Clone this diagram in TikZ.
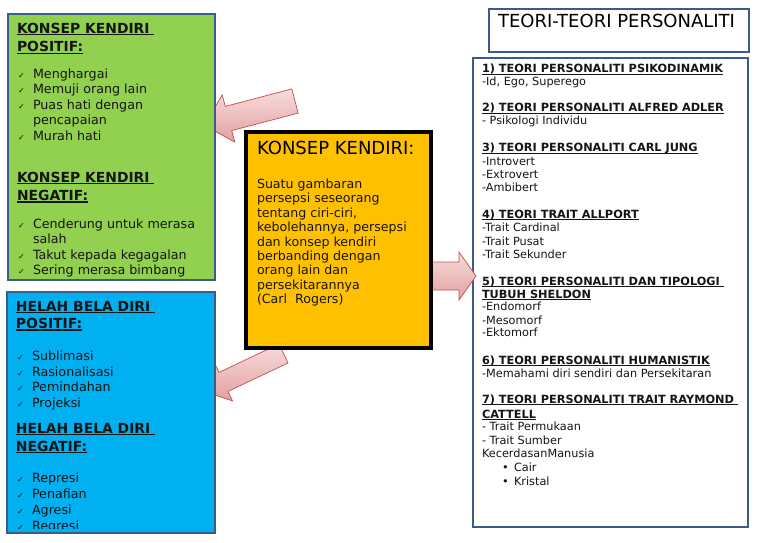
\documentclass[tikz,border=0pt]{standalone}
\usepackage{fontspec}
\setmainfont{DejaVu Sans}
\usetikzlibrary{calc}
\definecolor{gfill}{HTML}{92D050}
\definecolor{bfill}{HTML}{00B0F0}
\definecolor{ofill}{HTML}{FFC000}
\definecolor{edge}{HTML}{385D8A}
\definecolor{arrowedge}{HTML}{C0504D}
\definecolor{arrowlight}{HTML}{F8DCDC}
\definecolor{arrowdark}{HTML}{E2A0A0}
\definecolor{txt}{HTML}{151515}
\newcommand\myul[2][0.9pt]{\setbox0\hbox{#2}\rlap{\rule[-2pt]{\wd0}{#1}}\box0}
\begin{document}
\begin{tikzpicture}[x=1pt,y=-1pt,
  box/.style={draw=edge, line width=1.5pt, anchor=north west, inner sep=0pt, outer sep=0pt},
  ln/.style={anchor=base west, inner sep=0pt, outer sep=0pt, text=txt},
  lhead/.style={ln, font=\fontsize{13.9}{15}\bfseries\selectfont},
  lbody/.style={ln, font=\fontsize{12.7}{15}\selectfont},
  lcheck/.style={ln, font=\fontsize{8}{9}\selectfont},
  obody/.style={ln, font=\fontsize{12.6}{14}\selectfont},
  rhead/.style={ln, font=\fontsize{11.3}{13}\bfseries\selectfont},
  rbody/.style={ln, font=\fontsize{11.3}{13}\selectfont},
  blockarrow/.style={top color=arrowlight, bottom color=arrowdark, draw=arrowedge, line width=0.7pt, line join=miter}]
\useasboundingbox (0,0) rectangle (768,543);
\fill[white] (0,0) rectangle (768,543);

% arrows toward the left boxes (drawn first, tips hidden by the boxes)
\coordinate (a1tail) at (295,101);
\coordinate (a2tail) at (283.5,353.5);
\draw[blockarrow] (291.8,88.9) -- (225.3,106.4) -- (222.2,94.9) -- (204.4,125.3)
  -- (234.8,142.1) -- (231.7,130.6) -- (298.2,113.1) -- cycle;
\draw[blockarrow] (279,344) -- (219,372.4) -- (214.5,362.9) -- (203.6,391.3)
  -- (232.5,400.9) -- (228,391.4) -- (288,363) -- cycle;

% green box
\node[box, fill=gfill, minimum width=207pt, minimum height=266pt] (green) at (8,14) {};
\begin{scope}
\clip (9,15) rectangle (214,277);
\foreach \y/\t [count=\i] in {33.5/{KONSEP KENDIRI\ }, 52/{POSITIF:}, 182/{KONSEP KENDIRI\ }, 200.5/{NEGATIF:}}
  \node[lhead] (gh\i) at (17,\y) {\myul[1.2pt]{\t}};
\foreach \y/\t [count=\i] in {78/Menghargai, 93.5/Memuji orang lain, 109/Puas hati dengan, 140/Murah hati,
  228/Cenderung untuk merasa, 259/Takut kepada kegagalan, 274.5/Sering merasa bimbang}
  {\node[lcheck] (gc\i) at (18,\y) {✓};
   \node[lbody] (gi\i) at (33,\y) {\t};}
\node[lbody] (gx1) at (33,124.5) {pencapaian};
\node[lbody] (gx2) at (33,243.5) {salah};
\end{scope}

% blue box
\node[box, fill=bfill, minimum width=208pt, minimum height=241pt] (blue) at (7,292) {};
\begin{scope}
\clip (8,293) rectangle (214,528);
\foreach \y/\t [count=\i] in {311/{HELAH BELA DIRI\ }, 328.5/{POSITIF:}, 433/{HELAH BELA DIRI\ }, 451/{NEGATIF:}}
  \node[lhead] (bh\i) at (16,\y) {\myul[1.2pt]{\t}};
\foreach \y/\t [count=\i] in {360/Sublimasi, 376/Rasionalisasi, 391.5/Pemindahan, 407/Projeksi,
  482/Represi, 498/Penafian, 514/Agresi, 530/Regresi}
  {\node[lcheck] (bc\i) at (17,\y) {✓};
   \node[lbody] (bi\i) at (32,\y) {\t};}
\end{scope}

% title box
\node[box, fill=white, minimum width=260pt, minimum height=43pt] (title) at (489,9) {};
\node[ln, font=\fontsize{18}{20}\selectfont, text=black] (titletext) at (498,28) {TEORI-TEORI PERSONALITI};

% right box
\node[box, fill=white, minimum width=275pt, minimum height=469pt] (theories) at (473,58) {};
\foreach \y/\t [count=\i] in {72.7/{1) TEORI PERSONALITI PSIKODINAMIK}, 111.7/{2) TEORI PERSONALITI ALFRED ADLER},
  151.7/{3) TEORI PERSONALITI CARL JUNG}, 218.3/{4) TEORI TRAIT ALLPORT},
  285/{5) TEORI PERSONALITI DAN TIPOLOGI\ }, 298.3/{TUBUH SHELDON},
  364.3/{6) TEORI PERSONALITI HUMANISTIK}, 403.3/{7) TEORI PERSONALITI TRAIT RAYMOND\ }, 418.3/{CATTELL}}
  \node[rhead] (rh\i) at (482,\y) {\myul{\t}};
\foreach \y/\t [count=\i] in {85/{-Id, Ego, Superego}, 124/{- Psikologi Individu}, 165.7/-Introvert,
  178.3/-Extrovert, 191.7/-Ambibert, 231.7/-Trait Cardinal, 245/-Trait Pusat, 258.3/-Trait Sekunder,
  310.7/-Endomorf, 324/-Mesomorf, 336.7/-Ektomorf, 377.3/-Memahami diri sendiri dan Persekitaran,
  430.7/- Trait Permukaan, 444/- Trait Sumber, 457.7/KecerdasanManusia}
  \node[rbody] (rb\i) at (482,\y) {\t};
\foreach \y/\t [count=\i] in {471.7/Cair, 485/Kristal}
  {\node[rbody] (rd\i) at (502,\y) {•};
   \node[rbody] (rl\i) at (514,\y) {\t};}

% arrow toward the right box
\coordinate (a3tail) at (420,276);
\draw[blockarrow] (420,262) -- (459,262) -- (459,252) -- (476,276) -- (459,300) -- (459,290) -- (420,290) -- cycle;

% orange box
\node[box, draw=black, line width=3.5pt, fill=ofill, minimum width=185pt, minimum height=216pt] (core) at (246,132) {};
\node[ln, font=\fontsize{18}{20}\selectfont, text=black] (corehead) at (257,154) {KONSEP KENDIRI:};
\foreach \y/\t [count=\i] in {188/Suatu gambaran, 202.5/persepsi seseorang, 217/{tentang ciri-ciri,},
  231/{kebolehannya, persepsi}, 246/dan konsep kendiri, 260/berbanding dengan, 274.5/orang lain dan,
  289/persekitarannya, 303/{(Carl\ \ Rogers)}}
  \node[obody] (ob\i) at (257,\y) {\t};
\end{tikzpicture}
\end{document}
